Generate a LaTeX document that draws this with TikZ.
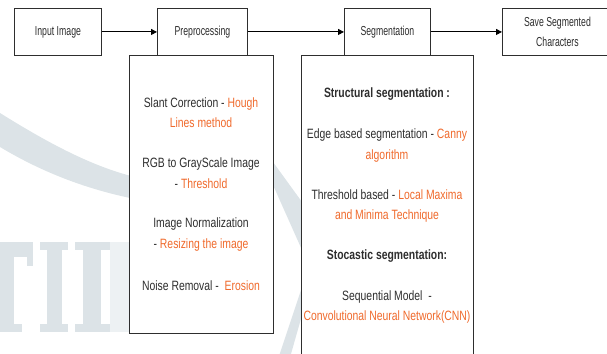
\documentclass[tikz,border=0pt]{standalone}
\usepackage{fontspec}
\setmainfont{Liberation Sans}
\newfontfamily\bodyfont{Liberation Sans}[FakeStretch=0.77]
\newfontfamily\stagefont{Liberation Sans}[FakeStretch=0.67]
\usetikzlibrary{arrows.meta}
\definecolor{ink}{HTML}{2E2E2E}
\definecolor{accent}{HTML}{F06A2C}
\definecolor{wmgray}{HTML}{DCE3E7}
\definecolor{wmlight}{HTML}{EDF1F3}
\begin{document}
\begin{tikzpicture}[x=1pt, y=-1pt,
  box/.style={draw=ink, fill=white, line width=0.9pt, inner sep=0pt,
    anchor=north west, align=center, text=ink,
    font=\stagefont\fontsize{13}{20}\selectfont},
  label/.style={font=\bodyfont\fontsize{13.5}{20.5}\selectfont, text=ink,
    align=center, inner sep=0pt},
  heading/.style={label, font=\bodyfont\fontsize{13.5}{20.5}\selectfont\bfseries},
  flow/.style={draw=black, line width=0.9pt,
    -{Triangle[length=6pt, width=6pt]}}]
\useasboundingbox (0,0) rectangle (607,353);
\clip (0,0) rectangle (607,353);

% watermark: swoosh bands and serif letters
\fill[wmgray] (0,113) .. controls (45,141) and (90,166) .. (135,177)
  -- (135,199) .. controls (90,190) and (45,174) .. (0,147) -- cycle;
\fill[wmgray] (265,151) -- (310,213) -- (310,268) -- (265,167) -- cycle;
\fill[wmgray] (310,263) -- (275,368) -- (287,368) -- (310,287) -- cycle;
\fill[wmgray] (0,242) rectangle (33,257);
\fill[wmgray] (27,257) rectangle (33,266);
\fill[wmgray] (0,257) rectangle (14,324);
\fill[wmgray] (0,324) rectangle (22,332);
\fill[wmgray] (40,242) rectangle (68,250);
\fill[wmgray] (47,250) rectangle (62,324);
\fill[wmgray] (40,324) rectangle (68,332);
\fill[wmgray] (75,242) rectangle (110,250);
\fill[wmgray] (83,250) rectangle (101,324);
\fill[wmgray] (75,324) rectangle (110,332);
\fill[wmlight] (110,242) rectangle (129,332);

% detail panels below the stages
\node[box, minimum width=144pt, minimum height=278pt] (prebody) at (129,55) {};
\node[box, minimum width=172pt, minimum height=315pt] (segbody) at (301,55) {};

% pipeline stages
\node[box, minimum width=87pt, minimum height=47pt] (input) at (14,8) {Input Image};
\node[box, minimum width=90pt, minimum height=47pt] (pre) at (157,8) {Preprocessing};
\node[box, minimum width=86pt, minimum height=47pt] (seg) at (344,8) {Segmentation};
\node[box, minimum width=110pt, minimum height=47pt] (save) at (502,8)
  {Save Segmented\\Characters};

\draw[flow] (input) -- (pre);
\draw[flow] (pre) -- (seg);
\draw[flow] (seg) -- (save);

% preprocessing steps
\node[label] (slant) at (201,112.5)
  {Slant Correction - \textcolor{accent}{Hough}\\\textcolor{accent}{Lines method}};
\node[label] (gray) at (201,173)
  {RGB to GrayScale Image\\- \textcolor{accent}{Threshold}};
\node[label] (norm) at (201,234.5)
  {Image Normalization\\- \textcolor{accent}{Resizing the image}};
\node[label] (noise) at (201,286)
  {Noise Removal -~\ \textcolor{accent}{Erosion}};

% segmentation methods
\node[heading] (struct) at (387,94) {Structural segmentation :};
\node[label] (edge) at (387,145.5)
  {Edge based segmentation - \textcolor{accent}{Canny}\\\textcolor{accent}{algorithm}};
\node[label] (thresh) at (387,206)
  {Threshold based - \textcolor{accent}{Local Maxima}\\\textcolor{accent}{and Minima Technique}};
\node[heading] (stoch) at (387,256) {Stocastic segmentation:};
\node[label] (seq) at (387,307)
  {Sequential Model~ -\\\textcolor{accent}{Convolutional Neural Network(CNN)}};
\end{tikzpicture}
\end{document}
